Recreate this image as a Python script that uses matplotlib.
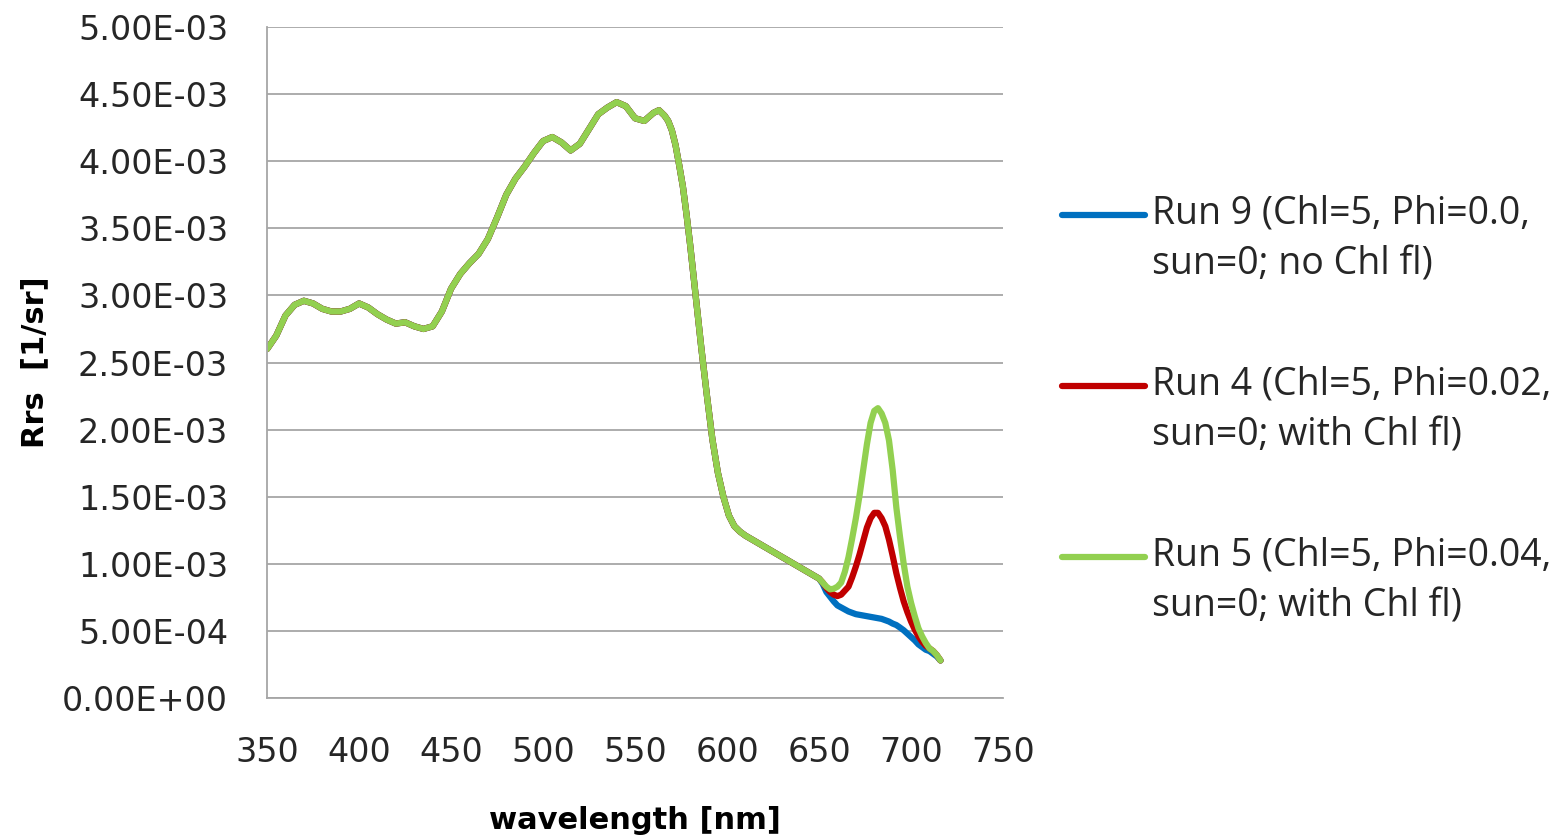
import matplotlib
matplotlib.use("Agg")
import matplotlib.pyplot as plt
from matplotlib.ticker import FuncFormatter, MultipleLocator
from matplotlib.legend_handler import HandlerLine2D

# wavelength grid [nm], part shared by all three runs
wl_common = [350, 355, 360, 365, 370, 375, 380, 385, 390, 395, 400, 405, 410, 415,
             420, 425, 430, 435, 440, 445, 450, 455, 460, 465, 470, 475, 480, 485,
             490, 495, 500, 505, 510, 515, 520, 525, 530, 535, 540, 545, 550, 555,
             560, 563, 566, 568, 570, 572, 574, 576, 578, 580, 583, 586, 589, 592,
             595, 598, 601, 604, 607, 610, 615, 620, 625, 630, 635, 640, 645, 650]
# Rrs x 1e-3
rrs_common = [2.60, 2.70, 2.85, 2.93, 2.96, 2.94, 2.90, 2.88, 2.88, 2.90, 2.94, 2.91,
              2.86, 2.82, 2.79, 2.80, 2.77, 2.75, 2.77, 2.88, 3.05, 3.16, 3.24, 3.31,
              3.42, 3.58, 3.75, 3.87, 3.96, 4.06, 4.15, 4.18, 4.14, 4.08, 4.13, 4.24,
              4.35, 4.40, 4.44, 4.41, 4.32, 4.30, 4.36, 4.38, 4.34, 4.30, 4.23, 4.12,
              3.97, 3.81, 3.60, 3.37, 2.99, 2.61, 2.26, 1.93, 1.68, 1.50, 1.36, 1.28,
              1.24, 1.21, 1.17, 1.13, 1.09, 1.05, 1.01, 0.97, 0.93, 0.89]

# fluorescence region, each run separately
wl_tail = [652, 654, 656, 658, 660, 662, 664, 666, 668, 670, 672, 674, 676, 678,
           680, 682, 684, 686, 688, 690, 692, 694, 696, 698, 700, 702, 704, 706,
           708, 710, 712, 714, 716]
rrs_run9 = [0.85, 0.79, 0.755, 0.72, 0.69, 0.675, 0.66, 0.645, 0.635, 0.625, 0.62,
            0.615, 0.61, 0.605, 0.60, 0.595, 0.59, 0.58, 0.57, 0.555, 0.544, 0.525,
            0.505, 0.48, 0.455, 0.43, 0.40, 0.38, 0.36, 0.35, 0.33, 0.31, 0.28]
rrs_run4 = [0.86, 0.82, 0.79, 0.77, 0.76, 0.77, 0.80, 0.83, 0.90, 0.98, 1.07, 1.17,
            1.27, 1.34, 1.38, 1.38, 1.34, 1.28, 1.18, 1.06, 0.93, 0.82, 0.72, 0.64,
            0.57, 0.51, 0.46, 0.42, 0.39, 0.37, 0.35, 0.32, 0.28]
rrs_run5 = [0.86, 0.83, 0.81, 0.815, 0.83, 0.86, 0.94, 1.05, 1.19, 1.34, 1.51, 1.70,
            1.89, 2.05, 2.14, 2.16, 2.12, 2.05, 1.92, 1.70, 1.42, 1.20, 1.00, 0.83,
            0.71, 0.61, 0.52, 0.46, 0.41, 0.37, 0.35, 0.32, 0.28]

labels = ["Run 9 (Chl=5, Phi=0.0,\nsun=0; no Chl fl)",
          "Run 4 (Chl=5, Phi=0.02,\nsun=0; with Chl fl)",
          "Run 5 (Chl=5, Phi=0.04,\nsun=0; with Chl fl)"]
colors = ["#0070C0", "#C00000", "#92D050"]


class TopLine(HandlerLine2D):
    # put the legend line next to the first text line
    def create_artists(self, legend, orig_handle, xdescent, ydescent, width,
                       height, fontsize, trans):
        arts = super().create_artists(legend, orig_handle, xdescent, ydescent,
                                      width, height, fontsize, trans)
        for a in arts:
            a.set_ydata([y + fontsize * 0.68 for y in a.get_ydata()])
        return arts


wl = wl_common + wl_tail
series = [rrs_run9, rrs_run4, rrs_run5]

fig = plt.figure(figsize=(15.59, 8.38), dpi=100)
ax = fig.add_axes([0.1713, 0.167, 0.4721, 0.8008])

lines = []
for vals, c in zip(series, colors):
    y = [v * 1e-3 for v in rrs_common + vals]
    ln, = ax.plot(wl, y, color=c, lw=4.5, solid_capstyle="round",
                  solid_joinstyle="round")
    lines.append(ln)

ax.set_xlim(350, 750)
ax.set_ylim(0, 5e-3)
ax.xaxis.set_major_locator(MultipleLocator(50))
ax.yaxis.set_major_locator(MultipleLocator(5e-4))
ax.yaxis.set_major_formatter(FuncFormatter(lambda v, p: "%.2E" % v))
ax.grid(axis="y", color="#A6A6A6", lw=1.3)
ax.set_axisbelow(True)
for s in ["top", "right"]:
    ax.spines[s].set_visible(False)
for s in ["left", "bottom"]:
    ax.spines[s].set_color("#A6A6A6")
    ax.spines[s].set_linewidth(1.3)
ax.tick_params(axis="both", length=0, labelsize=24, colors="#262626")
ax.tick_params(axis="x", pad=27)
ax.tick_params(axis="y", pad=28)

ax.set_xlabel("wavelength [nm]", fontsize=22, fontweight="bold", labelpad=27)
ax.set_ylabel("Rrs  [1/sr]", fontsize=22, fontweight="bold", labelpad=9)

leg = fig.legend(lines, labels, loc="upper left", bbox_to_anchor=(0.6596, 0.808),
                 frameon=False, handlelength=2.2, handletextpad=0.21,
                 labelspacing=2.17, prop={"family": "Open Sans", "size": 27},
                 handler_map={ln: TopLine() for ln in lines})
for t in leg.get_texts():
    t.set_color("#262626")
    t.set_linespacing(1.46)

fig.savefig("out.png", dpi=100)
